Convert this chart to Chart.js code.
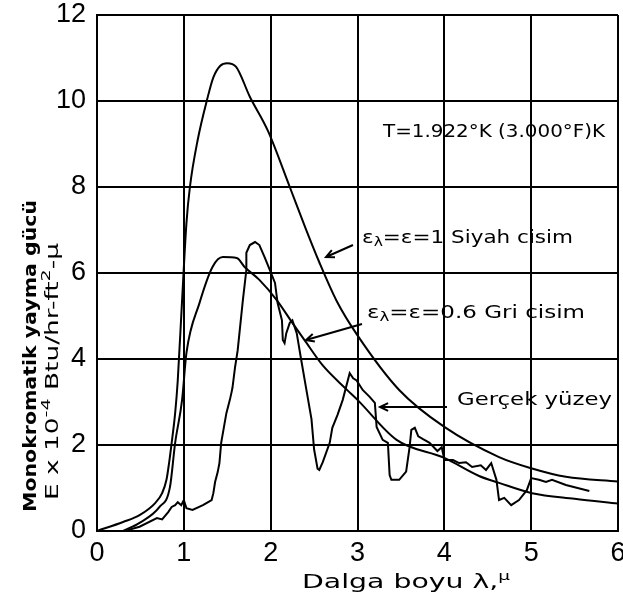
<!DOCTYPE html>
<html>
<head>
<meta charset="utf-8">
<script src="https://cdn.jsdelivr.net/npm/chart.js@4/dist/chart.umd.min.js"></script>
<style>
  html, body { margin: 0; padding: 0; background: #fff; }
  #kutu { width: 623px; height: 599px; position: relative; }
</style>
</head>
<body>
<div id="kutu"><canvas id="grafik"></canvas></div>
<script>
// (x: dalga boyu μ, y: E x 10^-4)
const siyahX = [0, 0.3, 0.49, 0.67, 0.75, 0.8, 0.83, 0.86, 0.9, 0.93, 0.98, 1.03, 1.07, 1.16, 1.27, 1.34, 1.42, 1.5, 1.6, 1.76, 1.97, 2.22, 2.4, 2.56, 2.76, 3.0, 3.48, 4.0, 4.63, 5.0, 5.4, 6.0];
const siyahY = [0, 0.21, 0.37, 0.65, 0.88, 1.19, 1.58, 2.05, 2.74, 3.5, 5.37, 7.16, 8.0, 9.1, 10.05, 10.55, 10.82, 10.88, 10.8, 10.1, 9.3, 8.0, 7.05, 6.25, 5.35, 4.55, 3.28, 2.42, 1.72, 1.46, 1.26, 1.15];

const griX = [0.3, 0.49, 0.72, 0.84, 0.9, 0.98, 1.03, 1.18, 1.33, 1.45, 1.61, 1.7, 1.87, 2.07, 2.25, 2.39, 2.6, 2.87, 3.0, 3.45, 4.0, 4.4, 4.63, 5.01, 5.5, 6.0];
const griY = [0, 0.19, 0.56, 1.02, 2.05, 3.05, 4.14, 5.3, 6.14, 6.37, 6.35, 6.14, 5.84, 5.37, 4.84, 4.44, 3.85, 3.3, 3.05, 2.12, 1.7, 1.28, 1.12, 0.88, 0.75, 0.64];

const gercekX = [0.35, 0.49, 0.69, 0.75, 0.82, 0.86, 0.9, 0.93, 0.97, 1.0, 1.03, 1.1, 1.22, 1.26, 1.32, 1.34, 1.36, 1.39, 1.41, 1.43, 1.49, 1.53, 1.55, 1.56, 1.59, 1.62, 1.68, 1.72, 1.72, 1.76, 1.82, 1.87, 1.93, 1.99, 2.05, 2.08, 2.13, 2.14, 2.16, 2.18, 2.22, 2.25, 2.3, 2.35, 2.41, 2.47, 2.5, 2.54, 2.56, 2.6, 2.68, 2.71, 2.77, 2.83, 2.91, 2.95, 2.99, 3.06, 3.14, 3.2, 3.22, 3.29, 3.35, 3.37, 3.39, 3.48, 3.56, 3.6, 3.62, 3.66, 3.7, 3.75, 3.83, 3.92, 3.97, 4.0, 4.1, 4.17, 4.25, 4.32, 4.42, 4.48, 4.54, 4.6, 4.63, 4.69, 4.77, 4.86, 4.95, 5.0, 5.09, 5.17, 5.24, 5.4, 5.67];
const gercekY = [0.02, 0.1, 0.3, 0.27, 0.44, 0.56, 0.6, 0.67, 0.6, 0.72, 0.53, 0.49, 0.6, 0.65, 0.72, 0.88, 1.14, 1.37, 1.58, 2.05, 2.74, 3.05, 3.23, 3.33, 3.81, 4.2, 5.37, 6.07, 6.47, 6.65, 6.72, 6.65, 6.37, 6.07, 5.77, 5.3, 4.9, 4.44, 4.37, 4.6, 4.84, 4.9, 4.6, 4.0, 3.3, 2.6, 1.9, 1.45, 1.42, 1.6, 2.05, 2.4, 2.7, 3.05, 3.67, 3.55, 3.5, 3.28, 3.12, 2.98, 2.42, 2.12, 2.05, 1.3, 1.19, 1.19, 1.38, 1.95, 2.35, 2.4, 2.2, 2.14, 2.05, 1.86, 1.95, 1.65, 1.65, 1.58, 1.6, 1.49, 1.53, 1.42, 1.58, 1.19, 0.72, 0.77, 0.6, 0.72, 0.95, 1.23, 1.19, 1.14, 1.19, 1.07, 0.93];

const xTikler = [0, 1, 2, 3, 4, 5, 6];
const yTikler = [0, 2, 4, 6, 8, 10, 12];

const noktalar = (xs, ys) => xs.map((x, i) => ({ x: x, y: ys[i] }));

// metni verilen genişliğe sığdırarak yazar
function yaz(ctx, parcalar, x, y, genislik, font, kucukFont, aci) {
  ctx.save();
  ctx.translate(x, y);
  ctx.rotate(aci || 0);
  let toplam = 0;
  parcalar.forEach(p => {
    ctx.font = p[1] ? kucukFont : font;
    toplam += ctx.measureText(p[0]).width;
  });
  ctx.scale(genislik / toplam, 1);
  ctx.fillStyle = '#000';
  ctx.textBaseline = 'middle';
  ctx.textAlign = 'left';
  let px = 0;
  parcalar.forEach(p => {
    ctx.font = p[1] ? kucukFont : font;
    ctx.fillText(p[0], px, p[1] === 1 ? 5 : (p[1] === 2 ? -6 : 0));
    px += ctx.measureText(p[0]).width;
  });
  ctx.restore();
}

function ok(ctx, x1, y1, x2, y2) {
  const a = Math.atan2(y2 - y1, x2 - x1);
  ctx.save();
  ctx.strokeStyle = '#000';
  ctx.lineWidth = 2;
  ctx.beginPath();
  ctx.moveTo(x1, y1);
  ctx.lineTo(x2, y2);
  ctx.moveTo(x2 - 9 * Math.cos(a - 0.45), y2 - 9 * Math.sin(a - 0.45));
  ctx.lineTo(x2, y2);
  ctx.lineTo(x2 - 9 * Math.cos(a + 0.45), y2 - 9 * Math.sin(a + 0.45));
  ctx.stroke();
  ctx.restore();
}

const yazilar = {
  id: 'yazilar',
  afterDraw(chart) {
    const ctx = chart.ctx;
    const f = "18px 'DejaVu Sans'";
    const k = "13px 'DejaVu Sans'";
    // eksen başlıkları
    yaz(ctx, [['Monokromatik yayma gücü', 0]], 31, 512, 312, "bold 18px 'DejaVu Sans'", k, -Math.PI / 2);
    yaz(ctx, [['E x 10', 0], ['-4', 2], [' Btu/hr-ft', 0], ['2', 2], ['-μ', 0]], 53, 500, 257, f, k, -Math.PI / 2);
    yaz(ctx, [['Dalga boyu λ,', 0], ['μ', 2]], 302, 583, 208, "20px 'DejaVu Sans'", k, 0);
    // açıklamalar
    yaz(ctx, [['T=1.922°K (3.000°F)K', 0]], 383, 132, 222, f, k, 0);
    yaz(ctx, [['ε', 0], ['λ', 1], ['=ε=1 Siyah cisim', 0]], 362, 238, 211, f, k, 0);
    yaz(ctx, [['ε', 0], ['λ', 1], ['=ε=0.6 Gri cisim', 0]], 367, 313, 218, f, k, 0);
    yaz(ctx, [['Gerçek yüzey', 0]], 457, 400, 155, f, k, 0);
    ok(ctx, 353, 245, 326, 257);
    ok(ctx, 362, 324, 306, 340);
    ok(ctx, 447, 407, 380, 407);
  }
};

const cizgi = (veri, kalinlik, yumusak) => ({
  data: veri,
  showLine: true,
  borderColor: '#000',
  borderWidth: kalinlik,
  pointRadius: 0,
  tension: yumusak ? 0.4 : 0,
  cubicInterpolationMode: yumusak ? 'monotone' : 'default',
  fill: false
});

new Chart(document.getElementById('grafik'), {
  type: 'scatter',
  data: {
    datasets: [
      cizgi(noktalar(siyahX, siyahY), 2, true),
      cizgi(noktalar(griX, griY), 2, true),
      cizgi(noktalar(gercekX, gercekY), 2, false)
    ]
  },
  options: {
    responsive: true,
    maintainAspectRatio: false,
    animation: false,
    layout: { padding: 0 },
    plugins: { legend: { display: false }, tooltip: { enabled: false } },
    scales: {
      x: {
        type: 'linear',
        min: 0,
        max: 6,
        afterBuildTicks: s => { s.ticks = xTikler.map(v => ({ value: v })); },
        afterFit: s => { s.height = 68; s.paddingRight = 5; },
        grid: { color: '#000', lineWidth: 2, drawTicks: false },
        border: { color: '#000', width: 2 },
        ticks: { color: '#000', padding: 6, font: { family: 'Liberation Sans', size: 27 } }
      },
      y: {
        min: 0,
        max: 12,
        afterBuildTicks: s => { s.ticks = yTikler.map(v => ({ value: v })); },
        afterFit: s => { s.width = 97; s.paddingTop = 15; s.paddingBottom = 0; },
        grid: { color: '#000', lineWidth: 2, drawTicks: false },
        border: { color: '#000', width: 2 },
        ticks: { color: '#000', padding: 11, font: { family: 'Liberation Sans', size: 27 } }
      }
    }
  },
  plugins: [yazilar]
});
</script>
</body>
</html>
